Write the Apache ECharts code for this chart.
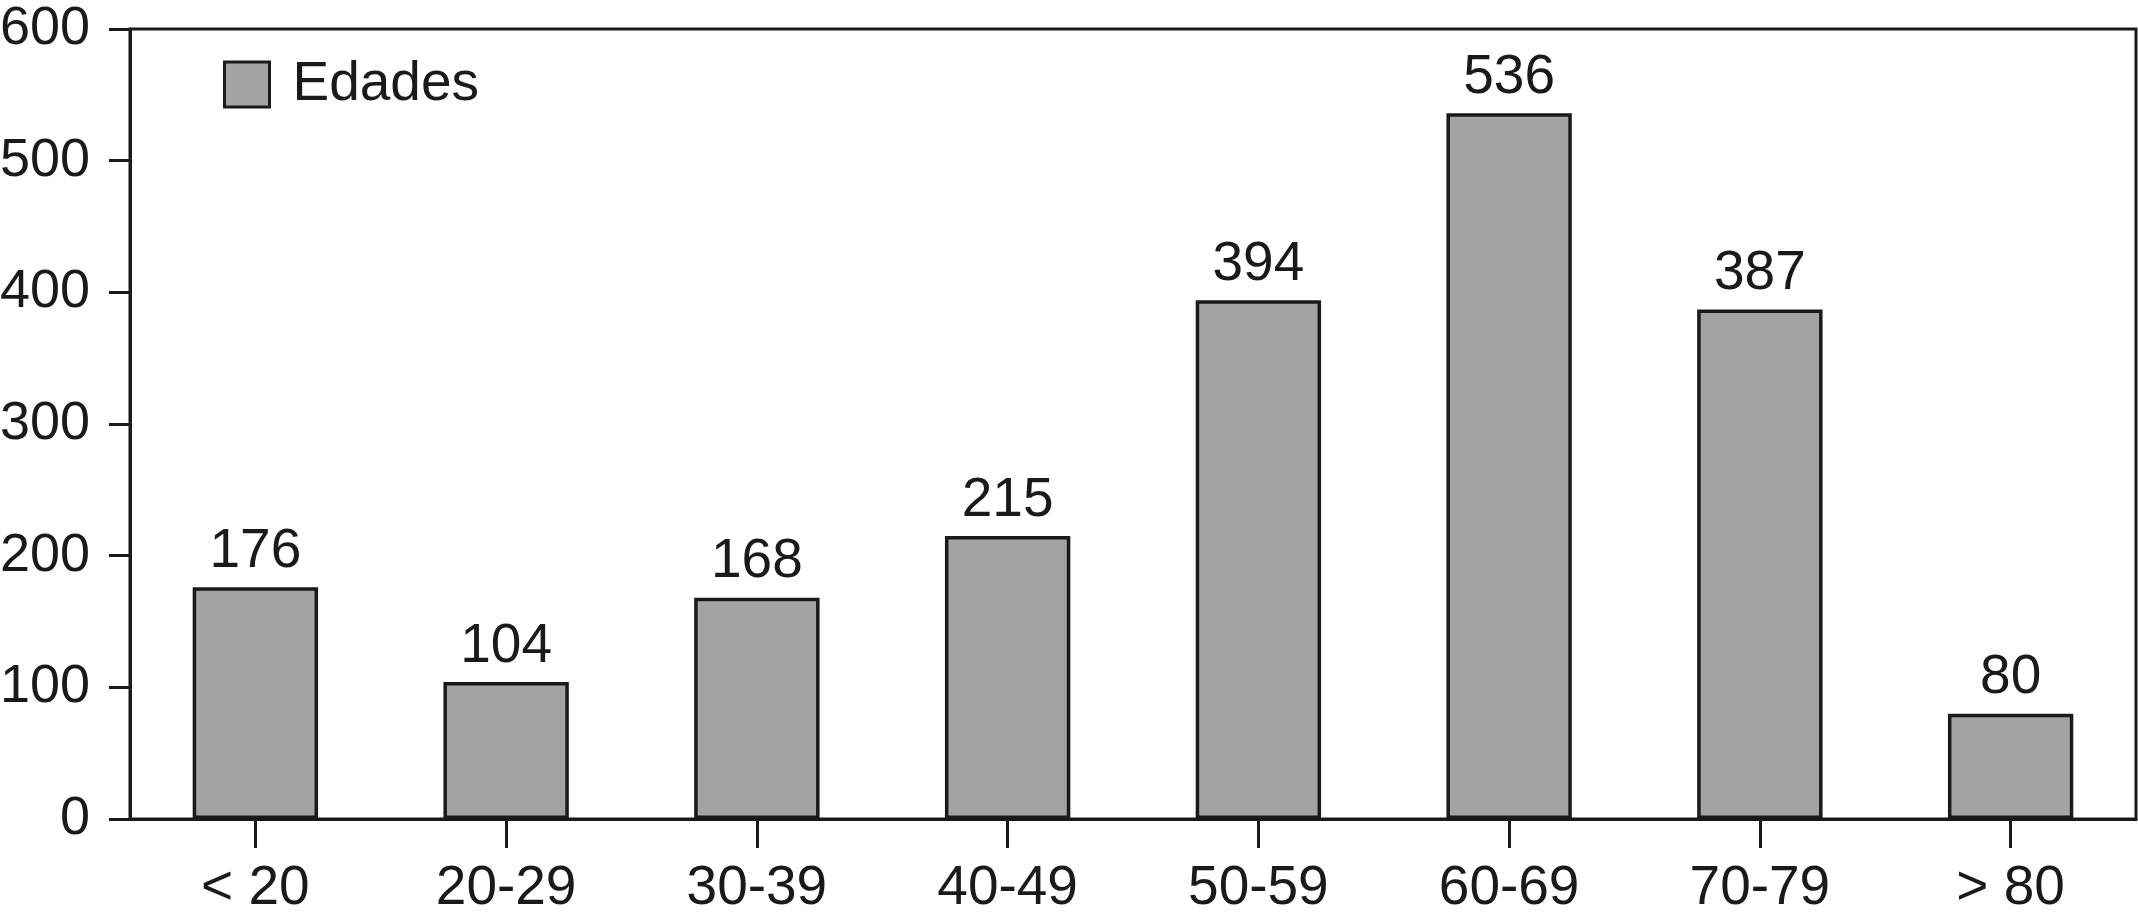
<!DOCTYPE html>
<html>
<head>
<meta charset="utf-8">
<script src="https://cdn.jsdelivr.net/npm/echarts@6/dist/echarts.min.js"></script>
<style>
  html, body { margin: 0; padding: 0; background: #fff; }
  #chart { width: 2138px; height: 923px; }
</style>
</head>
<body>
<div id="chart"></div>
<script>
// age groups and counts
const categories = ['< 20', '20-29', '30-39', '40-49', '50-59', '60-69', '70-79', '> 80'];
const edades = [176, 104, 168, 215, 394, 536, 387, 80];
const seriesName = 'Edades';

const ink = '#1a1a1a';
const font = 'Liberation Sans, Arial, sans-serif';

const chart = echarts.init(document.getElementById('chart'));
chart.setOption({
  backgroundColor: '#fff',
  animation: false,
  textStyle: { fontFamily: font },
  grid: {
    left: 130,
    right: 2,
    top: 29,
    bottom: 104,
    show: true,
    borderColor: ink,
    borderWidth: 3,
    containLabel: false,
    outerBoundsMode: 'none'
  },
  legend: {
    data: [{ name: seriesName, icon: 'rect' }],
    left: 218,
    top: 52,
    itemWidth: 45,
    itemHeight: 45,
    textStyle: { fontSize: 55, color: ink, fontFamily: font, padding: [0, 0, 0, 18] },
    itemStyle: { borderColor: ink, borderWidth: 3 }
  },
  xAxis: {
    type: 'category',
    data: categories,
    axisLine: { lineStyle: { color: ink, width: 3 } },
    axisTick: { show: true, alignWithLabel: true, length: 29, lineStyle: { color: ink, width: 3 } },
    axisLabel: { fontSize: 55, color: ink, margin: 42, fontFamily: font },
    splitLine: { show: false }
  },
  yAxis: {
    type: 'value',
    min: 0,
    max: 600,
    interval: 100,
    axisLine: { show: true, lineStyle: { color: ink, width: 3 } },
    axisTick: { show: true, length: 21, lineStyle: { color: ink, width: 3 } },
    axisLabel: { fontSize: 54, color: ink, margin: 40, fontFamily: font },
    splitLine: { show: false }
  },
  series: [{
    name: seriesName,
    type: 'bar',
    data: edades,
    barWidth: '50%',
    itemStyle: { color: '#a3a3a3', borderColor: ink, borderWidth: 3.5 },
    label: {
      show: true,
      position: 'top',
      distance: 8,
      fontSize: 55,
      color: ink,
      fontFamily: font
    }
  }]
});
</script>
</body>
</html>
